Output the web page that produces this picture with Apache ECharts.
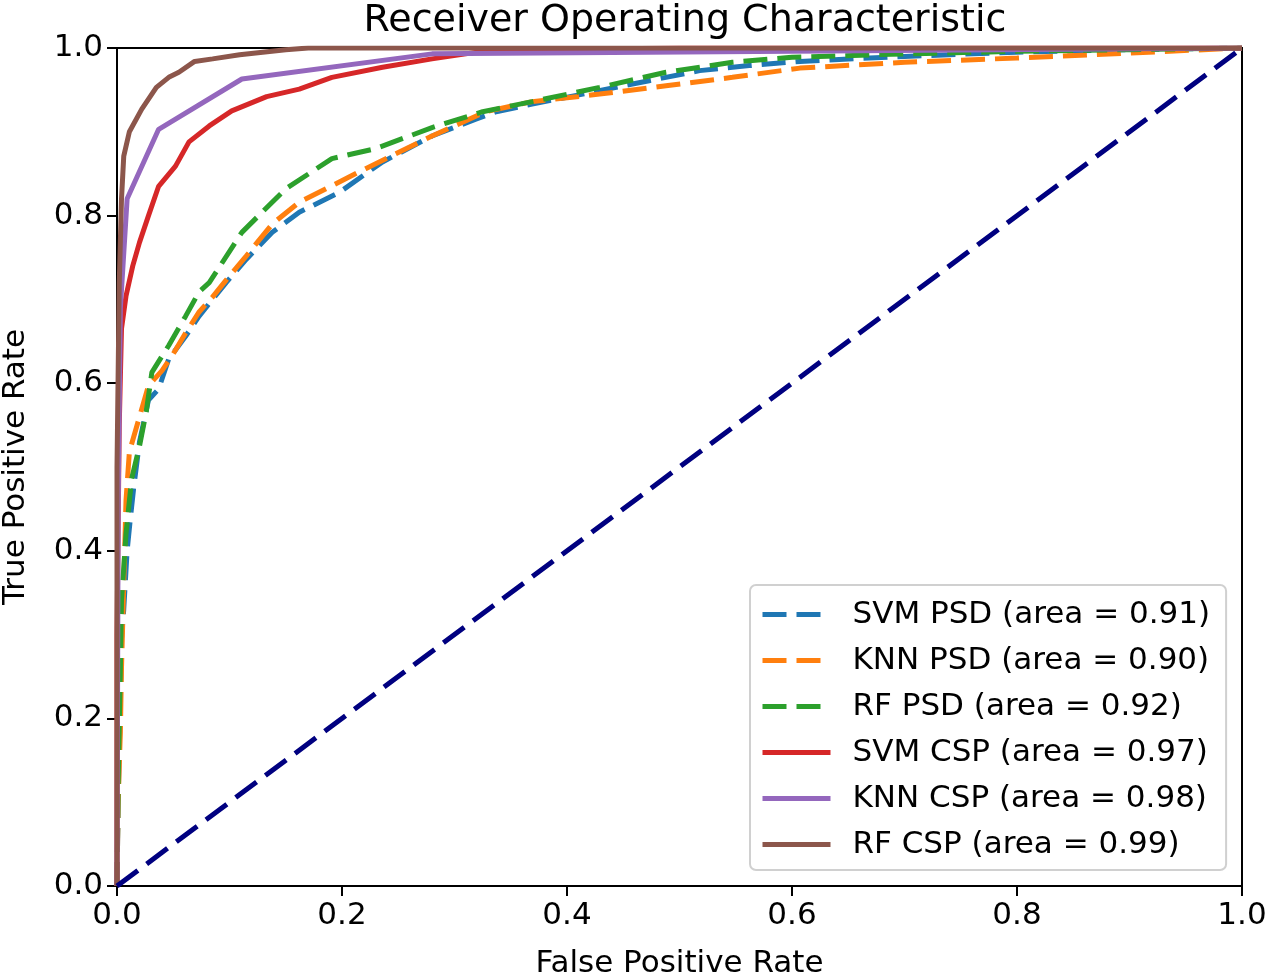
<!DOCTYPE html>
<html>
<head>
<meta charset="utf-8">
<script src="https://cdn.jsdelivr.net/npm/echarts@6/dist/echarts.min.js"></script>
<style>
html,body{margin:0;padding:0;background:#fff;}
#chart{width:1267px;height:978px;}
</style>
</head>
<body>
<div id="chart"></div>
<script>
const seriesNames = [
  'SVM PSD (area = 0.91)',
  'KNN PSD (area = 0.90)',
  'RF PSD (area = 0.92)',
  'SVM CSP (area = 0.97)',
  'KNN CSP (area = 0.98)',
  'RF CSP (area = 0.99)'
];
const seriesColors = ['#1f77b4', '#ff7f0e', '#2ca02c', '#d62728', '#9467bd', '#8c564b'];
const tickValues = [0.0, 0.2, 0.4, 0.6, 0.8, 1.0];

const svmPsd = [
  [0,0],[0.001,0.1],[0.003,0.22],[0.004,0.295],[0.006,0.33],[0.009,0.40],[0.012,0.44],[0.015,0.477],
  [0.02,0.53],[0.028,0.58],[0.037,0.593],[0.046,0.629],[0.061,0.656],[0.073,0.68],[0.085,0.70],
  [0.097,0.72],[0.115,0.748],[0.138,0.78],[0.162,0.804],[0.198,0.828],[0.236,0.864],[0.28,0.895],
  [0.319,0.915],[0.337,0.924],[0.369,0.933],[0.414,0.945],[0.473,0.961],[0.518,0.973],[0.562,0.979],
  [0.607,0.984],[0.7,0.99],[0.8,0.995],[0.9,0.998],[1,1]
];
const knnPsd = [
  [0,0],[0.001,0.1],[0.003,0.184],[0.004,0.26],[0.006,0.36],[0.008,0.46],[0.011,0.518],[0.02,0.56],
  [0.028,0.597],[0.04,0.615],[0.05,0.635],[0.061,0.66],[0.073,0.685],[0.085,0.703],[0.097,0.723],
  [0.115,0.752],[0.138,0.79],[0.162,0.816],[0.221,0.856],[0.28,0.895],[0.328,0.924],[0.369,0.936],
  [0.429,0.945],[0.488,0.955],[0.547,0.965],[0.607,0.976],[0.7,0.983],[0.8,0.988],[0.9,0.994],[1,1]
];
const rfPsd = [
  [0,0],[0.001,0.12],[0.003,0.26],[0.004,0.34],[0.008,0.42],[0.013,0.486],[0.02,0.525],[0.026,0.566],
  [0.031,0.613],[0.046,0.645],[0.061,0.68],[0.073,0.709],[0.082,0.72],[0.111,0.78],[0.15,0.832],
  [0.191,0.868],[0.23,0.88],[0.28,0.905],[0.325,0.924],[0.369,0.936],[0.429,0.953],[0.488,0.971],
  [0.547,0.983],[0.6,0.989],[0.7,0.993],[0.8,0.996],[0.9,0.998],[1,1]
];
const svmCsp = [
  [0,0],[0,0.3],[0.002,0.55],[0.004,0.665],[0.008,0.704],[0.014,0.74],[0.02,0.768],[0.028,0.80],
  [0.037,0.835],[0.052,0.859],[0.064,0.888],[0.082,0.907],[0.102,0.925],[0.133,0.942],[0.162,0.951],
  [0.191,0.965],[0.236,0.977],[0.28,0.987],[0.31,0.993],[0.33,0.997],[0.5,1],[1,1]
];
const knnCsp = [
  [0,0],[0.001,0.45],[0.003,0.69],[0.009,0.82],[0.037,0.903],[0.111,0.963],[0.28,0.993],[0.6,0.996],[1,1]
];
const rfCsp = [
  [0,0],[0,0.5],[0.002,0.72],[0.004,0.82],[0.006,0.871],[0.011,0.90],[0.022,0.927],[0.035,0.953],
  [0.046,0.965],[0.055,0.971],[0.069,0.984],[0.085,0.987],[0.109,0.992],[0.15,0.998],[0.17,1],[1,1]
];
const chanceLine = [[0,0],[1,1]];

const curveData = [svmPsd, knnPsd, rfPsd, svmCsp, knnCsp, rfCsp];
const dashed = [true, true, true, false, false, false];

const FONT = 'DejaVu Sans';
const series = curveData.map((d, i) => ({
  name: seriesNames[i],
  type: 'line',
  data: d,
  showSymbol: false,
  symbol: 'none',
  smooth: false,
  color: seriesColors[i],
  itemStyle: { color: seriesColors[i] },
  lineStyle: { width: 5, color: seriesColors[i], type: dashed[i] ? [24, 10] : 'solid' },
  z: 3 + i,
  animation: false
}));
series.push({
  name: 'chance',
  type: 'line',
  data: chanceLine,
  showSymbol: false,
  symbol: 'none',
  color: '#000080',
  lineStyle: { width: 5, color: '#000080', type: [26, 11] },
  z: 10,
  animation: false
});

const chart = echarts.init(document.getElementById('chart'), null, { renderer: 'canvas' });
chart.setOption({
  backgroundColor: '#fff',
  animation: false,
  textStyle: { fontFamily: FONT },
  title: {
    text: 'Receiver Operating Characteristic',
    left: 680, top: -3, textAlign: 'center',
    textStyle: { fontFamily: FONT, fontSize: 38, fontWeight: 'normal', color: '#000' }
  },
  grid: {
    left: 117, right: 25, top: 48, bottom: 92,
    containLabel: false, outerBoundsMode: 'none',
    show: true, borderColor: '#000', borderWidth: 2, backgroundColor: 'transparent'
  },
  legend: {
    data: seriesNames,
    orient: 'vertical',
    left: 750, top: 585,
    itemWidth: 68, itemHeight: 14, itemGap: 15,
    padding: [14, 16, 10, 10],
    backgroundColor: '#fff',
    borderColor: '#d0d0d0', borderWidth: 2, borderRadius: 6,
    itemStyle: { opacity: 0 },
    lineStyle: { width: 5 },
    textStyle: { fontFamily: FONT, fontSize: 31, color: '#000', padding: [0, 0, 0, 17] }
  },
  xAxis: {
    type: 'value', min: 0, max: 1, interval: 0.2,
    name: 'False Positive Rate', nameLocation: 'middle', nameGap: 62,
    nameTextStyle: { fontFamily: FONT, fontSize: 31, color: '#000' },
    axisLine: { show: true, lineStyle: { color: '#000', width: 2 } },
    axisTick: { show: true, inside: false, length: 10, lineStyle: { color: '#000', width: 2 } },
    axisLabel: { fontFamily: FONT, fontSize: 31, color: '#000', margin: 14, formatter: v => v.toFixed(1) },
    splitLine: { show: false }
  },
  yAxis: {
    type: 'value', min: 0, max: 1, interval: 0.2,
    name: 'True Positive Rate', nameLocation: 'middle', nameGap: 86, nameRotate: 90,
    nameTextStyle: { fontFamily: FONT, fontSize: 31, color: '#000' },
    axisLine: { show: true, lineStyle: { color: '#000', width: 2 } },
    axisTick: { show: true, inside: false, length: 10, lineStyle: { color: '#000', width: 2 } },
    axisLabel: { fontFamily: FONT, fontSize: 31, color: '#000', margin: 14, formatter: v => v.toFixed(1) },
    splitLine: { show: false }
  },
  series: series
});
</script>
</body>
</html>
